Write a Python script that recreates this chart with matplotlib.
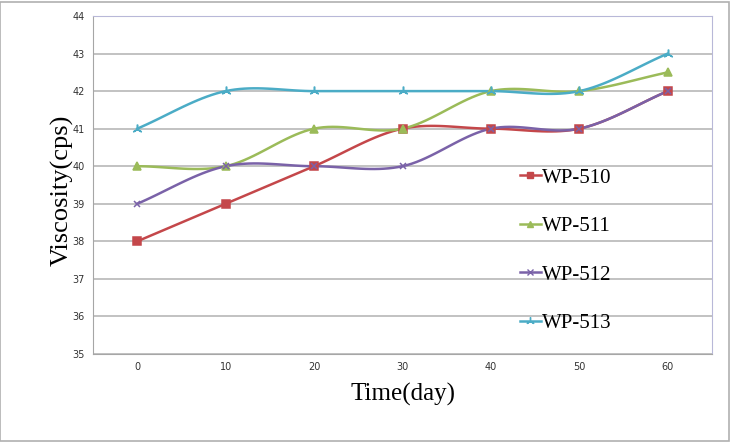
import numpy as np
import matplotlib.pyplot as plt
from matplotlib.patches import Rectangle

days = [0, 10, 20, 30, 40, 50, 60]
wp510 = [38, 39, 40, 41, 41, 41, 42]
wp511 = [40, 40, 41, 41, 42, 42, 42.5]
wp512 = [39, 40, 40, 40, 41, 41, 42]
wp513 = [41, 42, 42, 42, 42, 42, 43]

series = [
    ("WP-510", wp510, "#C4474A", "s", 5.5),
    ("WP-511", wp511, "#9BBB59", "^", 5.5),
    ("WP-512", wp512, "#7A62A8", "x", 5),
    ("WP-513", wp513, "#4BACC6", (3, 2, 0), 7),
]


def smooth(x, y, n=20):
    # Catmull-Rom through the points, like Excel's smoothed line
    x = np.asarray(x, float)
    y = np.asarray(y, float)
    px = np.concatenate([[2 * x[0] - x[1]], x, [2 * x[-1] - x[-2]]])
    py = np.concatenate([[2 * y[0] - y[1]], y, [2 * y[-1] - y[-2]]])
    xs, ys = [], []
    t = np.linspace(0, 1, n)
    for i in range(1, len(px) - 2):
        for p, out in ((px, xs), (py, ys)):
            p0, p1, p2, p3 = p[i - 1], p[i], p[i + 1], p[i + 2]
            out.extend(0.5 * (2 * p1 + (-p0 + p2) * t
                              + (2 * p0 - 5 * p1 + 4 * p2 - p3) * t ** 2
                              + (-p0 + 3 * p1 - 3 * p2 + p3) * t ** 3))
    return np.array(xs), np.array(ys)


fig = plt.figure(figsize=(7.32, 4.43), dpi=100)
ax = fig.add_axes([93 / 732, 1 - 354 / 443, 619 / 732, 338 / 443])

xi = np.arange(len(days))
for name, vals, color, marker, ms in series:
    sx, sy = smooth(xi, vals)
    ax.plot(sx, sy, color=color, lw=1.8, zorder=3)
    ax.plot(xi, vals, ls="none", marker=marker, color=color, ms=ms,
            mew=1.1, zorder=4)
    ax.plot([], [], color=color, lw=1.8, marker=marker, ms=ms - 1, mew=1.0,
            label=name)

ax.set_xlim(-0.5, len(days) - 0.5)
ax.set_ylim(35, 44)
ax.set_yticks(range(35, 45))
ax.set_xticks(xi)
ax.set_xticklabels([str(d) for d in days])
ax.tick_params(axis="both", labelsize=7, colors="#333333", length=0)
ax.tick_params(axis="x", pad=6)
ax.tick_params(axis="y", pad=6)
ax.yaxis.grid(True, color="#BDBDBD", lw=1.3)
ax.set_axisbelow(True)
for s in ["top", "right"]:
    ax.spines[s].set_color("#B8B8D8")
for s in ["left", "bottom"]:
    ax.spines[s].set_color("#A6A6A6")

ax.set_xlabel("Time(day)", family="Liberation Serif", fontsize=18)
ax.xaxis.set_label_coords(0.501, -0.086)
ax.set_ylabel("Viscosity(cps)", family="Liberation Serif", fontsize=19)
ax.yaxis.set_label_coords(-0.031, 0.485)

leg = ax.legend(loc="upper left", bbox_to_anchor=(0.673, 0.581),
                frameon=False,
                prop={"family": "Liberation Serif", "size": 15},
                handlelength=1.0, handletextpad=0.05, labelspacing=1.39,
                borderpad=0)

fig.patches.append(Rectangle((0, 2 / 443), 729 / 732, 439 / 443,
                             transform=fig.transFigure, fill=False,
                             edgecolor="#B0B0B0", lw=1.2))

plt.savefig("out.png", dpi=100)
